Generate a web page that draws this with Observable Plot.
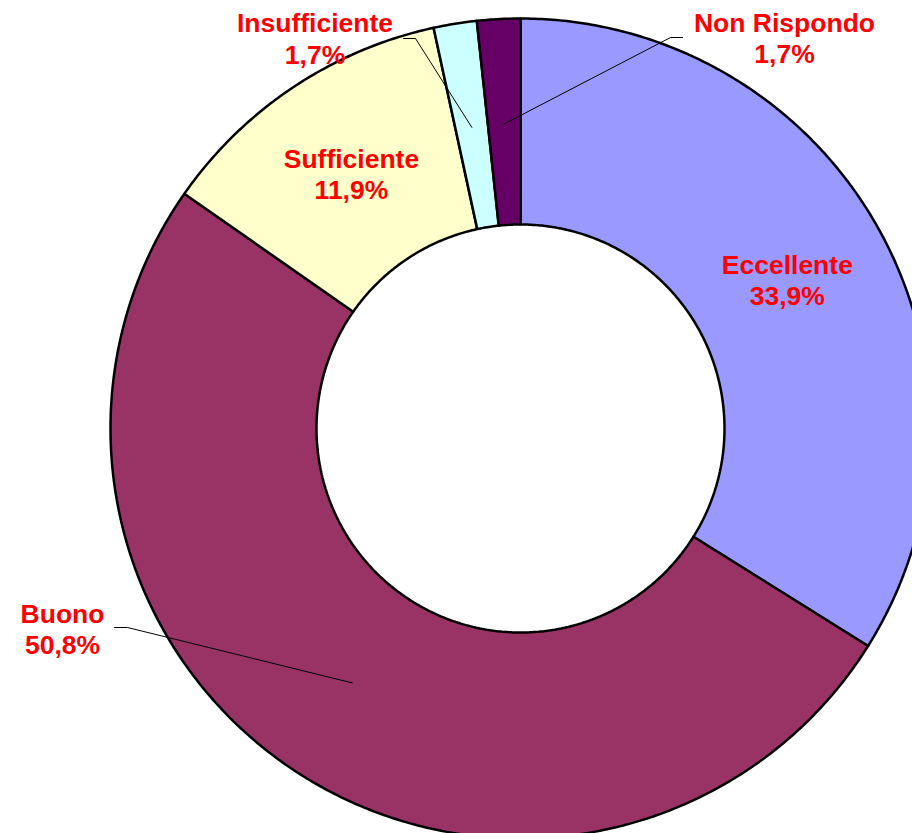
<!DOCTYPE html>
<html><head><meta charset="utf-8">
<script src="https://cdn.jsdelivr.net/npm/d3@7"></script>
<script src="https://cdn.jsdelivr.net/npm/@observablehq/plot@0.6"></script>
<style>html,body{margin:0;padding:0;background:#fff;overflow:hidden}</style>
</head><body><div id="chart"></div>
<script>
// ---- data ----
const categories = ["Eccellente", "Buono", "Sufficiente", "Insufficiente", "Non Rispondo"];
const values = [33.9, 50.8, 11.9, 1.7, 1.7];
const valueLabels = ["33,9%", "50,8%", "11,9%", "1,7%", "1,7%"];
const colors = ["#9999FF", "#993366", "#FFFFCC", "#CCFFFF", "#660066"];

// ---- layout (pixel units = data units on identity scales) ----
const W = 912, H = 833, cx = 520, cy = 428, R = 410, r0 = 204;
const labelR = 305;
// outside labels: first-line baseline anchor, elbow and end of leader line
const outside = {
  "Buono":        {x: 62,    y: 622, elbow: [127, 627], end: [114, 627]},
  "Insufficiente":{x: 314.5, y: 31.7, elbow: [415, 38], end: [403, 38]},
  "Non Rispondo": {x: 784,   y: 31,  elbow: [670, 37], end: [682, 37]}
};
const fontSize = 26.5, lineH = 31.5 / 26.5;

const total = d3.sum(values);
let acc = 0;
const slices = categories.map((c, i) => {
  const a0 = acc / total * 2 * Math.PI; acc += values[i];
  const a1 = acc / total * 2 * Math.PI;
  return {c, a0, a1, mid: (a0 + a1) / 2, color: colors[i], label: valueLabels[i]};
});
const pt = (a, rad) => ({x: cx + rad * Math.sin(a), y: cy - rad * Math.cos(a)});
function ring(s) {
  const n = Math.max(2, Math.ceil((s.a1 - s.a0) / (2 * Math.PI) * 720));
  const pts = [];
  for (let k = 0; k <= n; k++) pts.push(pt(s.a0 + (s.a1 - s.a0) * k / n, R));
  for (let k = n; k >= 0; k--) pts.push(pt(s.a0 + (s.a1 - s.a0) * k / n, r0));
  pts.push(pts[0]);
  return pts;
}

const texts = slices.map(s => {
  const o = outside[s.c];
  if (o) return {x: o.x, y: o.y + 31.5, t: s.c + "\n" + s.label};
  const p = pt(s.mid, labelR);
  return {x: p.x, y: p.y - 7 + 31.5, t: s.c + "\n" + s.label};
});
const leaders = slices.filter(s => outside[s.c]).flatMap(s => {
  const o = outside[s.c], p = pt(s.mid, labelR);
  return [{c: s.c, x: p.x, y: p.y}, {c: s.c, x: o.elbow[0], y: o.elbow[1]}, {c: s.c, x: o.end[0], y: o.end[1]}];
});

const chart = Plot.plot({
  width: W, height: H, margin: 0,
  x: {domain: [0, W], range: [0, W], axis: null},
  y: {domain: [0, H], range: [0, H], axis: null},
  style: {background: "white", overflow: "hidden", display: "block"},
  marks: [
    ...slices.map(s => Plot.line(ring(s), {x: "x", y: "y", fill: s.color, stroke: "black", strokeWidth: 2.5, strokeLinejoin: "miter"})),
    Plot.line(leaders, {x: "x", y: "y", z: "c", stroke: "black", strokeWidth: 1}),
    Plot.text(texts, {x: "x", y: "y", text: "t", lineAnchor: "bottom", lineHeight: lineH, textAnchor: "middle",
      fill: "#FF0000", fontSize: fontSize, fontWeight: "bold", fontFamily: "'Liberation Sans', Arial, sans-serif"})
  ]
});
document.getElementById("chart").appendChild(chart);
</script>
</body></html>
